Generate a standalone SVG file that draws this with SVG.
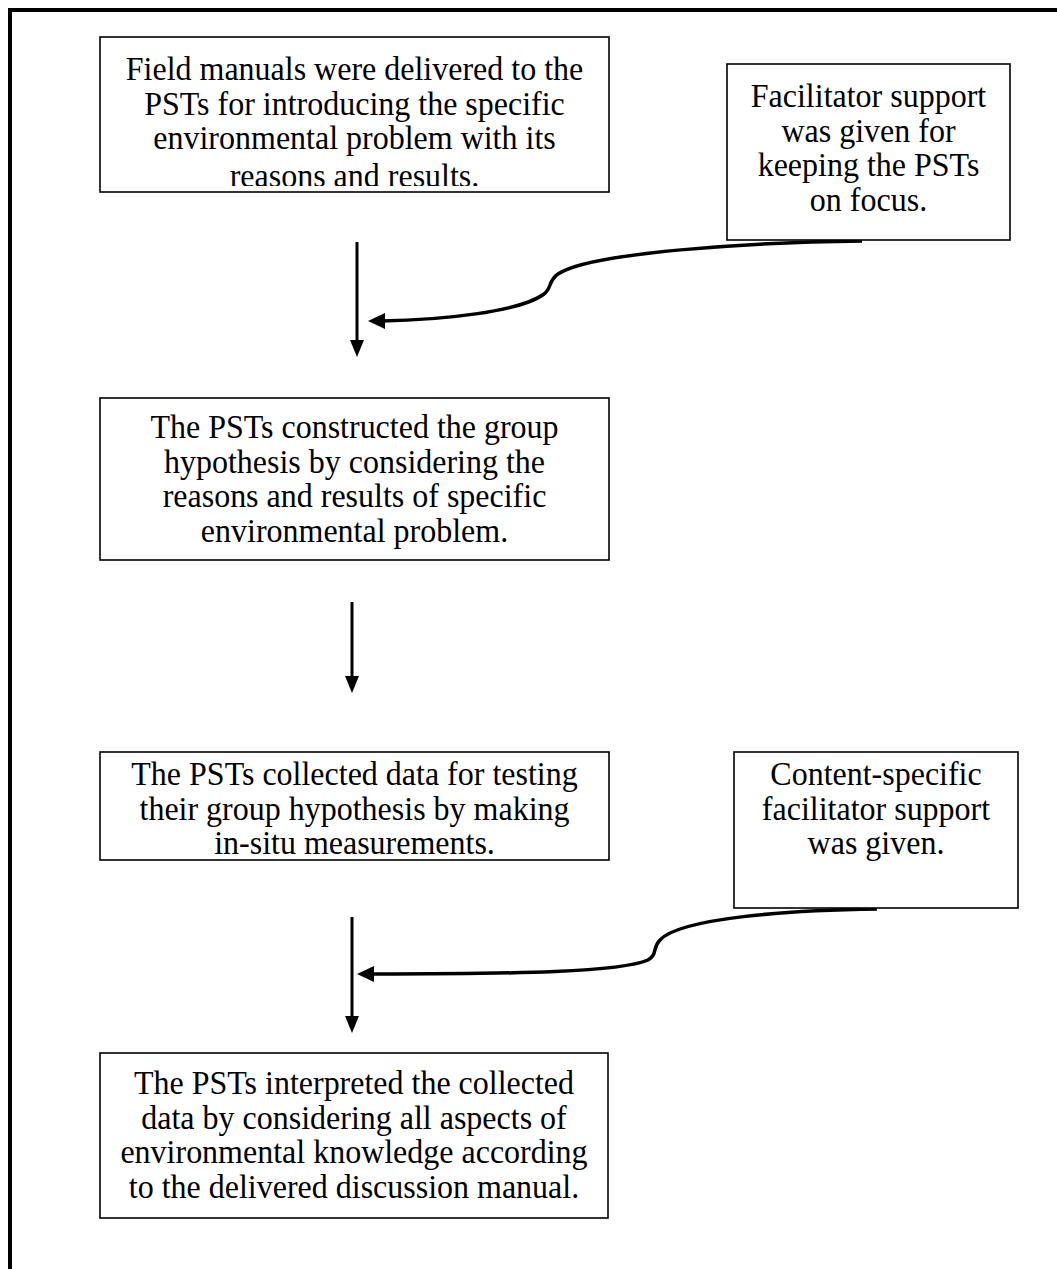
<svg xmlns="http://www.w3.org/2000/svg" width="1057" height="1269" viewBox="0 0 1057 1269">
<defs>
<style>
.box{fill:#fff;stroke:#000;stroke-width:1.6}
.t{font-family:"Liberation Serif","Times New Roman",serif;font-size:32px;fill:#000;text-anchor:middle}
.ln{fill:none;stroke:#000;stroke-width:3}
.cv{fill:none;stroke:#000;stroke-width:3.5}
.ah{fill:#000}
</style>
<clipPath id="c1"><rect x="100" y="37" width="509" height="149"/></clipPath>
</defs>
<rect x="0" y="0" width="1057" height="1269" fill="#fff"/>
<rect x="10" y="10" width="1100" height="1300" fill="none" stroke="#000" stroke-width="4"/>

<g id="connectors">
<line class="ln" x1="357" y1="242" x2="357" y2="342"/>
<polygon class="ah" points="350,340 364,340 357,357"/>
<path class="cv" d="M862,241 C760,242 590,252 558,274 C548,281 552,288 544,294 C520,312 440,320 382,321"/>
<polygon class="ah" points="368,321 385,313 385,329"/>
<line class="ln" x1="352" y1="602" x2="352" y2="678"/>
<polygon class="ah" points="345,676 359,676 352,693"/>
<line class="ln" x1="352" y1="917" x2="352" y2="1018"/>
<polygon class="ah" points="345,1016 359,1016 352,1033"/>
<path class="cv" d="M877,909 C790,910 680,918 660,940 C652,948 658,954 648,960 C620,972 520,974 372,974"/>
<polygon class="ah" points="357,974 374,966 374,982"/>
</g>

<g id="n1">
<rect class="box" x="100" y="37" width="509" height="155"/>
<g clip-path="url(#c1)">
<text class="t" transform="translate(354.5,80) scale(1,1.07)">Field manuals were delivered to the</text>
<text class="t" transform="translate(354.5,114.5) scale(1,1.07)">PSTs for introducing the specific</text>
<text class="t" transform="translate(354.5,149) scale(1,1.07)">environmental problem with its</text>
<text class="t" transform="translate(354.5,186.5) scale(1,1.07)">reasons and results.</text>
</g>
</g>

<g id="n2">
<rect class="box" x="727" y="64" width="283" height="176"/>
<text class="t" transform="translate(868.5,107) scale(1,1.07)">Facilitator support</text>
<text class="t" transform="translate(868.5,141.5) scale(1,1.07)">was given for</text>
<text class="t" transform="translate(868.5,176) scale(1,1.07)">keeping the PSTs</text>
<text class="t" transform="translate(868.5,210.5) scale(1,1.07)">on focus.</text>
</g>

<g id="n3">
<rect class="box" x="100" y="398" width="509" height="162"/>
<text class="t" transform="translate(354.5,438) scale(1,1.07)">The PSTs constructed the group</text>
<text class="t" transform="translate(354.5,472.5) scale(1,1.07)">hypothesis by considering the</text>
<text class="t" transform="translate(354.5,507) scale(1,1.07)">reasons and results of specific</text>
<text class="t" transform="translate(354.5,541.5) scale(1,1.07)">environmental problem.</text>
</g>

<g id="n4">
<rect class="box" x="100" y="752" width="509" height="108"/>
<text class="t" transform="translate(354.5,785) scale(1,1.07)">The PSTs collected data for testing</text>
<text class="t" transform="translate(354.5,819.5) scale(1,1.07)">their group hypothesis by making</text>
<text class="t" transform="translate(354.5,854) scale(1,1.07)">in-situ measurements.</text>
</g>

<g id="n5">
<rect class="box" x="734" y="752" width="284" height="156"/>
<text class="t" transform="translate(876,785) scale(1,1.07)">Content-specific</text>
<text class="t" transform="translate(876,819.5) scale(1,1.07)">facilitator support</text>
<text class="t" transform="translate(876,854) scale(1,1.07)">was given.</text>
</g>

<g id="n6">
<rect class="box" x="100" y="1053" width="508" height="165"/>
<text class="t" transform="translate(354,1094) scale(1,1.07)">The PSTs interpreted the collected</text>
<text class="t" transform="translate(354,1128.5) scale(1,1.07)">data by considering all aspects of</text>
<text class="t" transform="translate(354,1163) scale(1,1.07)">environmental knowledge according</text>
<text class="t" transform="translate(354,1197.5) scale(1,1.07)">to the delivered discussion manual.</text>
</g>
</svg>
